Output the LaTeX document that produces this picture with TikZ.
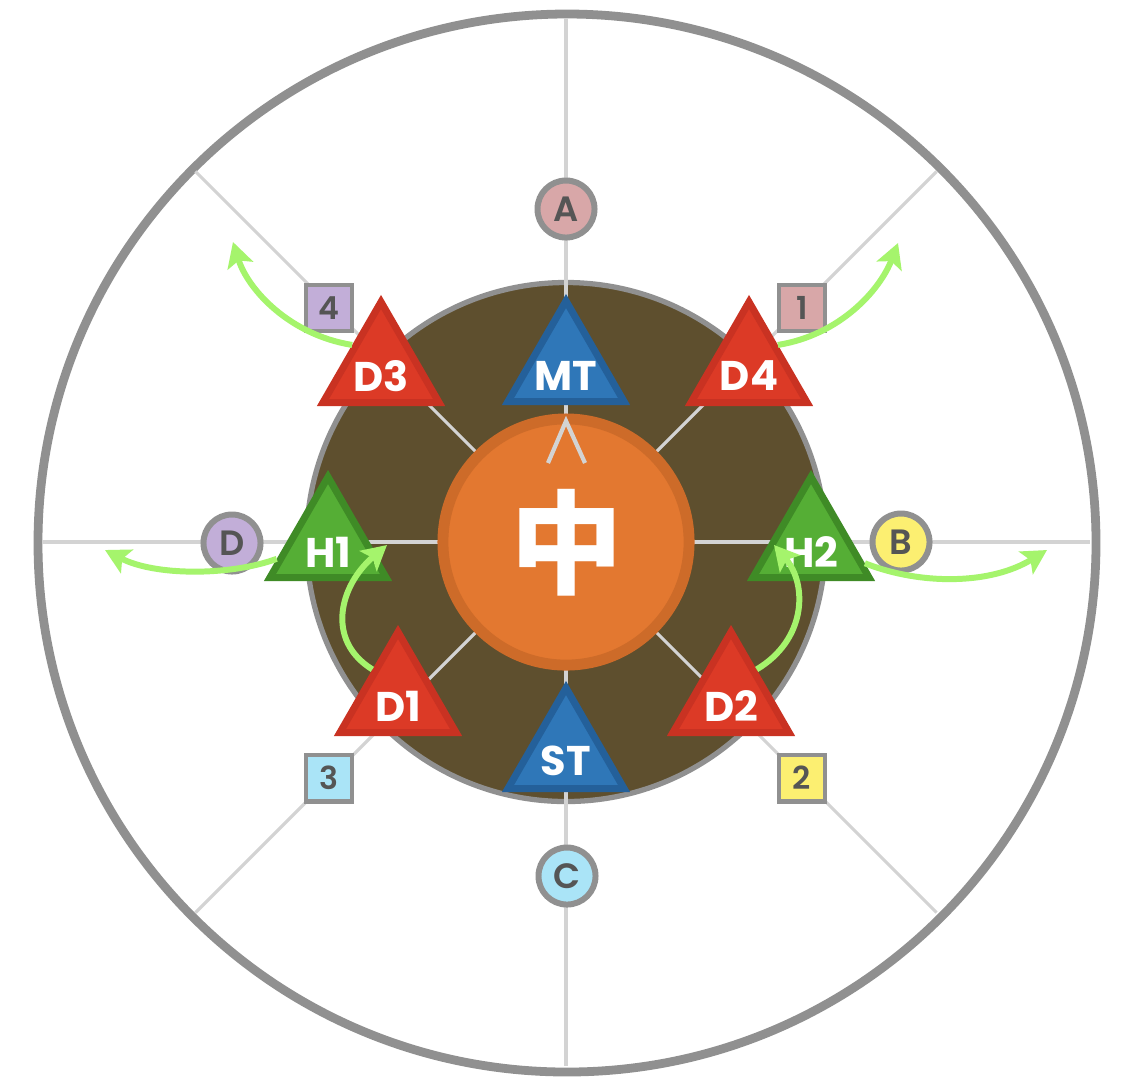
\documentclass[tikz,border=0pt]{standalone}
\usepackage{fontspec}
\setmainfont{Poppins}
\newfontfamily\cjk{Noto Sans CJK SC}
\newfontfamily\lblfont{Poppins SemiBold}
\usetikzlibrary{calc, shapes.geometric, arrows.meta}

\definecolor{ringgray}{HTML}{909090}
\definecolor{spokegray}{HTML}{D3D3D3}
\definecolor{floor}{HTML}{5E4F2E}
\definecolor{coreorange}{HTML}{E37830}
\definecolor{coreline}{HTML}{CD6B29}
\definecolor{tankblue}{HTML}{2F77B8}
\definecolor{tankline}{HTML}{24609A}
\definecolor{dpsred}{HTML}{DC3A26}
\definecolor{dpsline}{HTML}{C93222}
\definecolor{healgreen}{HTML}{55AE35}
\definecolor{healline}{HTML}{3F8B26}
\definecolor{movegreen}{HTML}{A5F46C}
\definecolor{labelgray}{HTML}{555555}
\definecolor{markA}{HTML}{D8A7A8}
\definecolor{markB}{HTML}{FCEF71}
\definecolor{markC}{HTML}{AAE4F7}
\definecolor{markD}{HTML}{C2AED8}

\begin{document}
\begin{tikzpicture}[x=0.01cm, y=-0.01cm,
  spoke/.style={draw=spokegray, line width=0.9pt},
  player/.style={regular polygon, regular polygon sides=3, minimum size=1.34cm, inner sep=0pt, line width=2pt},
  tank/.style={player, fill=tankblue, draw=tankline},
  dps/.style={player, fill=dpsred, draw=dpsline},
  healer/.style={player, fill=healgreen, draw=healline},
  rolename/.style={text=white, font=\bfseries\fontsize{11.8}{12}\selectfont, inner sep=0pt},
  waymark/.style={circle, minimum size=0.57cm, inner sep=0pt, line width=1.7pt, draw=ringgray, text=labelgray, font=\lblfont\fontsize{10}{10}\selectfont},
  numbox/.style={rectangle, minimum size=0.46cm, inner sep=0pt, line width=1.4pt, draw=ringgray, text=labelgray, font=\lblfont\fontsize{9}{9}\selectfont},
  move/.style={draw=movegreen, line width=1.7pt, -{Stealth[length=7pt, width=7.5pt, inset=1.5pt]}}
]
\useasboundingbox (0,0) rectangle (1134,1090);
\coordinate (ctr) at (566,542);

% Arena
\draw[ringgray, line width=2.5pt, fill=white] (567,543) circle (529);
\draw[ringgray, line width=1.5pt, fill=floor] (ctr) circle (259.5);
\foreach \a in {0,45,...,315}
  \draw[spoke] (ctr) -- ++(\a:524);
\node[circle, fill=coreorange, draw=coreline, line width=3.1pt, minimum size=2.46cm] (core) at (ctr) {};
\draw[spoke, line width=1.2pt] (548,463) -- (566,421) -- (585,463);
\node[text=white, font=\cjk\bfseries\fontsize{32}{32}\selectfont, inner sep=0pt] (zhong) at (567,543) {中};

% Players
\node[tank] (mt) at (566,368) {};
\node[tank] (st) at (566,755) {};
\node[dps] (d3) at (381,369) {};
\node[dps] (d4) at (749,369) {};
\node[dps] (d1) at (398,699) {};
\node[dps] (d2) at (731,699) {};
\node[healer] (h1) at (328,544) {};
\node[healer] (h2) at (811,544) {};

\node[rolename] (mt-name) at ($(mt)+(0,8)$) {MT};
\node[rolename] (st-name) at ($(st)+(0,6)$) {ST};
\node[rolename] (d3-name) at ($(d3)+(0,7)$) {D3};
\node[rolename] (d4-name) at ($(d4)+(0,7)$) {D4};
\node[rolename] (d1-name) at ($(d1)+(0,7)$) {D1};
\node[rolename] (d2-name) at ($(d2)+(0,7)$) {D2};
\node[rolename] (h1-name) at ($(h1)+(0,8)$) {H1};
\node[rolename] (h2-name) at ($(h2)+(0,8)$) {H2};

% Waymarks
\node[waymark, fill=markA] (wA) at (566,209) {A};
\node[waymark, fill=markB] (wB) at (901,542) {B};
\node[waymark, fill=markC] (wC) at (567,876) {C};
\node[waymark, fill=markD] (wD) at (232,543) {D};

\node[numbox, fill=markA] (n1) at (802,308) {1};
\node[numbox, fill=markB] (n2) at (802,778) {2};
\node[numbox, fill=markC] (n3) at (329,778) {3};
\node[numbox, fill=markD] (n4) at (329,308) {4};

% Movement
\coordinate (d3to) at (233,242);
\coordinate (d4to) at (898,243);
\coordinate (h1to) at (105,550);
\coordinate (h2to) at (1047,550);
\coordinate (d1to) at (387,545);
\coordinate (d2to) at (774,545);

\draw[move] ($(d3.corner 1)!0.45!(d3.corner 2)$) .. controls (290,335) and (248,290) .. (d3to);
\draw[move] ($(d4.corner 1)!0.45!(d4.corner 3)$) .. controls (840,335) and (880,290) .. (d4to);
\draw[move] ($(h1.corner 1)!0.8!(h1.corner 2)$) .. controls (230,576) and (155,576) .. (h1to);
\draw[move] ($(h2.corner 1)!0.84!(h2.corner 3)$) .. controls (920,585) and (990,585) .. (h2to);
\draw[move] ($(d1.corner 1)!0.4!(d1.corner 2)$) .. controls (325,640) and (340,585) .. (d1to);
\draw[move] ($(d2.corner 1)!0.4!(d2.corner 3)$) .. controls (806,640) and (808,585) .. (d2to);
\end{tikzpicture}
\end{document}
